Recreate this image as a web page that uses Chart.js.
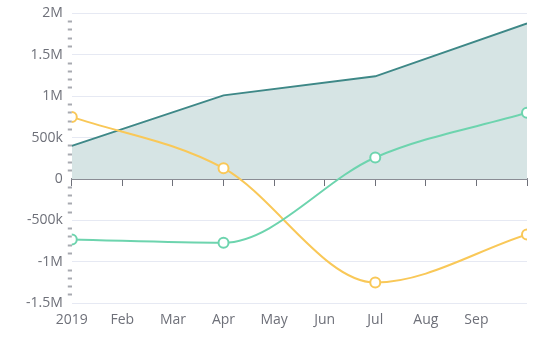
<!DOCTYPE html>
<html><head><meta charset="utf-8">
<script src="https://cdn.jsdelivr.net/npm/chart.js@4/dist/chart.umd.min.js"></script>
<style>html,body{margin:0;padding:0;background:#fff}#wrap{width:559px;height:350px}</style>
</head><body><div id="wrap"><canvas id="c"></canvas></div>
<script>
const categories = ['2019','Feb','Mar','Apr','May','Jun','Jul','Aug','Sep',''];
const pointMonths = [0, 3, 6, 9];
const areaValues = [400000, 1010000, 1240000, 1880000];
const greenValues = [-730000, -770000, 260000, 800000];
const yellowValues = [750000, 130000, -1250000, -670000];
const yTickLabels = {'-1500000':'-1.5M','-1000000':'-1M','-500000':'-500k','0':'0','500000':'500k','1000000':'1M','1500000':'1.5M','2000000':'2M'};

const toPts = vals => vals.map((v,i)=>({x: pointMonths[i], y: v}));
const txt = '#6e7079';
const font = {family: "'Open Sans', sans-serif", size: 14};

new Chart(document.getElementById('c'), {
  type: 'line',
  data: {
    datasets: [
      {data: toPts(greenValues), borderColor:'#6dd4ae', borderWidth:2, pointRadius:5, pointBorderWidth:2,
       pointBackgroundColor:'#fff', pointBorderColor:'#6dd4ae', cubicInterpolationMode:'monotone', order:1, fill:false},
      {data: toPts(yellowValues), borderColor:'#f9c858', borderWidth:2, pointRadius:5, pointBorderWidth:2,
       pointBackgroundColor:'#fff', pointBorderColor:'#f9c858', cubicInterpolationMode:'monotone', order:2, fill:false},
      {data: toPts(areaValues), borderColor:'#3e8887', backgroundColor:'#d6e4e4', borderWidth:2, pointRadius:0,
       tension:0, fill:'origin', order:3}
    ]
  },
  options: {
    responsive:true, maintainAspectRatio:false, animation:false,
    layout:{padding:{top:-2, right:32, bottom:22, left:21}},
    plugins:{legend:{display:false}, tooltip:{enabled:false}},
    scales:{
      x:{type:'linear', min:0, max:9, position:'bottom',
         grid:{display:false}, border:{display:false},
         ticks:{stepSize:1, color:txt, font, padding:0, maxRotation:0, autoSkip:false,
                callback:v=>categories[v] ?? ''}},
      x2:{type:'linear', min:0, max:9, position:{y:0},
         grid:{display:true, drawOnChartArea:false, drawTicks:true, tickLength:6, tickColor:'#6e7079', tickWidth:1},
         border:{display:true, color:'#8a8c94', width:2},
         ticks:{stepSize:1, display:false}},
      y:{min:-1500000, max:2000000,
         border:{display:false},
         grid:{color:c=> (c.tick && c.tick.value % 500000 === 0) ? '#e6e9f3' : 'rgba(0,0,0,0)',
               tickColor:c=> (c.tick && c.tick.value % 500000 === 0) ? 'rgba(0,0,0,0)' : '#a8aab1',
               tickWidth:2, tickLength:4, lineWidth:1},
         ticks:{stepSize:100000, color:txt, font, padding:5, autoSkip:false,
                callback:v=> yTickLabels[String(v)] ?? ''}}
    }
  }
});
</script></body></html>
